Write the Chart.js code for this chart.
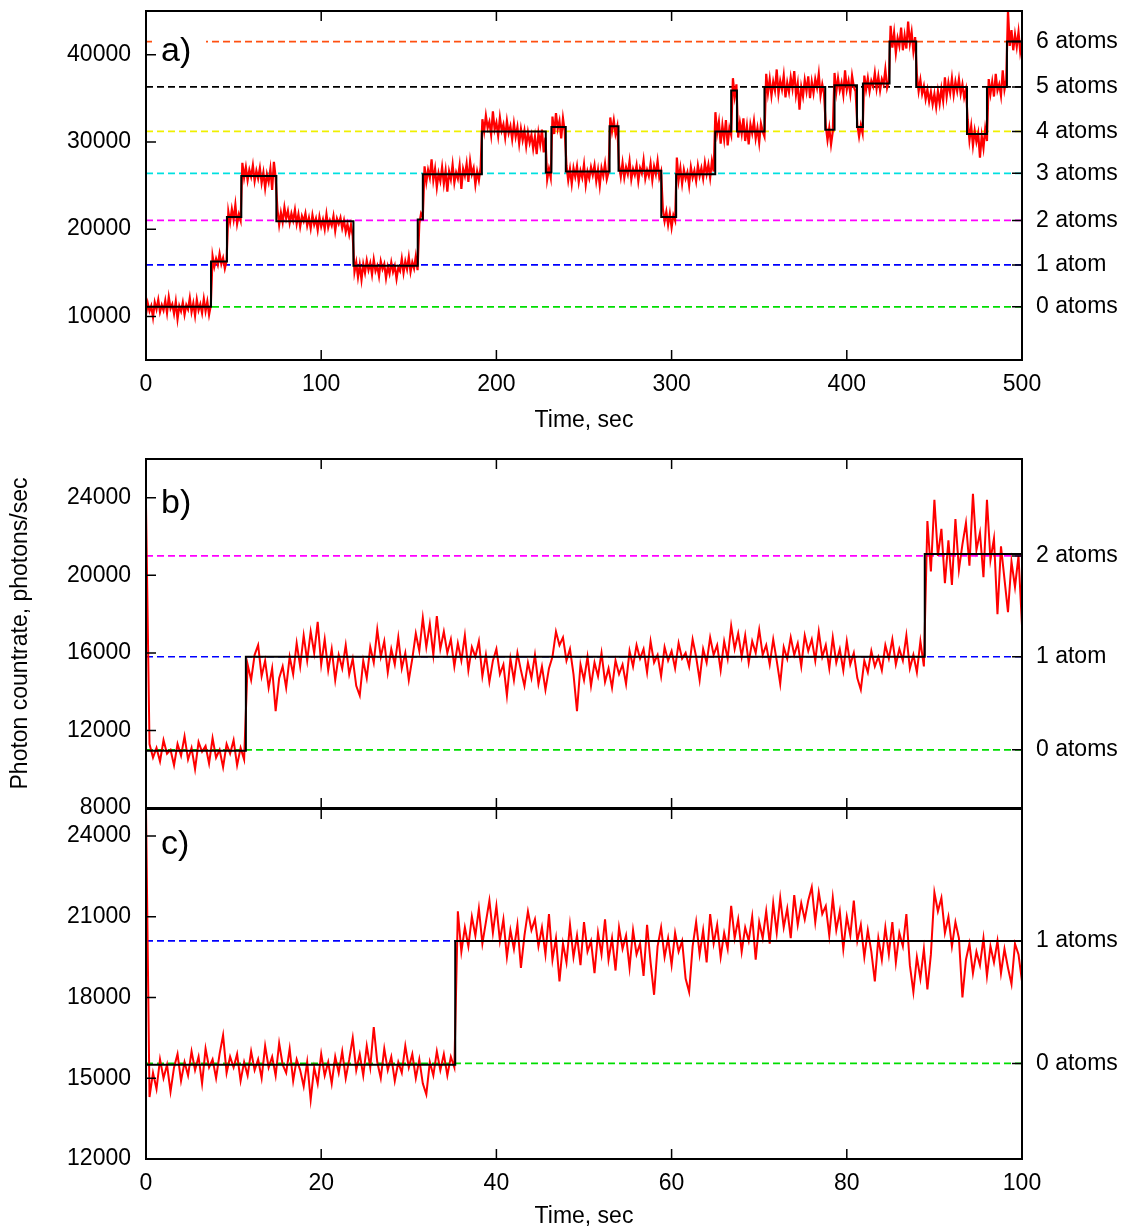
<!DOCTYPE html>
<html>
<head>
<meta charset="utf-8">
<title>Photon countrate traces</title>
<script src="https://cdn.jsdelivr.net/npm/chart.js@4.4.1/dist/chart.umd.min.js"></script>
<style>
  html, body { margin: 0; padding: 0; background: #fff; }
  #wrap { position: relative; width: 1125px; height: 1230px; overflow: hidden; background: #fff; }
  canvas { position: absolute; left: 0; }
</style>
</head>
<body>
<div id="wrap">
  <canvas id="chartA" width="1125" height="440" style="top:0px"></canvas>
  <canvas id="chartB" width="1125" height="380" style="top:440px"></canvas>
  <canvas id="chartC" width="1125" height="430" style="top:800px"></canvas>
</div>
<script>
const FONT = '"Liberation Sans", Arial, Helvetica, sans-serif';

// ---- panel a) : one reading per second, 0..500 s
const aDt = 1;
const aRate = [
  10200, 11500, 10600, 11200, 9900, 11600, 10800, 11900, 10500, 11300, 10700, 11800, 10400, 12200, 10900, 11400, 10300, 11700, 9700, 11200,
  10600, 11600, 10200, 11300, 10800, 12100, 10500, 11500, 10100, 11900, 10700, 11400, 10400, 12000, 10600, 11700, 10200, 11300,   // 0-37
  16900, 15700, 16600, 15900, 17200, 16000, 16700, 15500, 16400,                                                                  // 38-46
  22000, 20800, 22300, 21100, 22800, 20600, 21700, 21000,                                                                         // 47-54
  27600, 25900, 27100, 25600, 26800, 26000, 27300, 25500, 26700, 25800, 27000, 25300, 26500, 24700, 26300, 25400, 26900, 24500, 27700, 25900, // 55-74
  22300, 20500, 21900, 20800, 22500, 21200, 22100, 20700, 21800, 21000, 22200, 20600, 21700, 20300, 21500, 20900, 21800, 20400, 21300, 20100,
  21600, 20500, 21200, 19900, 21400, 20300, 21100, 20000, 21700, 20200, 21000, 20400, 21500, 19800, 21200, 20600, 21300, 20100, 21000, 19700,
  20600, 19400, 20500, 19200,                                                                                                     // 75-118
  15100, 16200, 14500, 15900, 14200, 16000, 15000, 16400, 15300, 16100, 14800, 16500, 15200, 15800, 14600, 16300, 15400, 16000, 14400, 15700,
  14900, 16200, 15100, 15800, 14300, 15600, 15200, 16600, 15000, 16300, 15400, 16800, 15100, 16200, 15500, 16900, 15300,         // 119-155
  20600, 21800, 21400,                                                                                                            // 156-158
  27200, 25400, 26800, 25900, 28000, 25600, 26900, 24800, 26400, 25500, 27100, 25200, 26700, 24300, 26600, 25700, 27400, 25300, 26500, 25800,
  27300, 24600, 26900, 26100, 27500, 25400, 27800, 26300, 27000, 25100, 26600, 25600, 27100,                                      // 159-191
  32600, 31200, 33000, 31600, 32300, 30800, 33500, 31400, 32200, 30700, 32800, 31300, 32000, 30500, 32400, 31000, 31800, 30300, 32100, 30600,
  31700, 29800, 31500, 30200, 31300, 29500, 31100, 29900, 30800, 29200, 30600, 28600, 31000, 29700, 31400, 28800, 30500,         // 192-228
  25700, 26900, 25900,                                                                                                            // 229-231
  32900, 30900, 33300, 31500, 32400, 30400, 32700, 31200,                                                                         // 232-239
  27300, 25600, 26900, 25200, 27000, 26000, 27200, 25400, 26700, 25900, 27400, 25100, 26600, 25800, 27100, 26200, 27300, 25500, 26800, 25000,
  27000, 26100, 27500, 25700, 26500,                                                                                              // 240-264
  32800, 31200, 32500, 30900, 31800,                                                                                              // 265-269
  27400, 26000, 27600, 25900, 27100, 26300, 27800, 25700, 26900, 26200, 27300, 25500, 27000, 26400, 27900, 25800, 26800, 26100, 27500, 25600,
  27200, 26300, 27800, 25900, 26600,                                                                                              // 270-294
  22300, 20900, 22000, 20500, 21800, 20200, 21600, 21000,                                                                         // 295-302
  28200, 25600, 27000, 25200, 26800, 25800, 26500, 25000, 27100, 25900, 26700, 25500, 27300, 26100, 27000, 25800, 27600, 26300, 27400, 25900,
  27800, 26600,                                                                                                                   // 303-324
  33400, 31000, 32300, 29800, 31900, 30300, 32500, 29600, 31600, 30800,                                                           // 325-334
  37300, 35200, 36600,                                                                                                            // 335-337
  30500, 32200, 30900, 32700, 30100, 31800, 29700, 32000, 31000, 32400, 30400, 31600, 29900, 32100, 31200, 30600,                 // 338-353
  37800, 35600, 37200, 35300, 36900, 35900, 38300, 35500, 37000, 36000, 37600, 35100, 36800, 35700, 37400, 36100, 38100, 35400, 36700, 33700,
  36300, 35200, 37100, 35800, 37500, 35000, 36900, 35600, 37200, 36200, 37800, 35300, 36600, 35500,                               // 354-387
  31900, 30200, 31600, 29700, 31200,                                                                                              // 388-392
  37900, 35700, 37300, 35900, 36800, 35400, 38200, 36000, 37000, 35500, 37600, 36300, 35800,                                      // 393-405
  32000, 30600, 31900, 31000,                                                                                                     // 406-409
  37600, 36000, 37300, 35800, 37000, 36400, 37900, 36100, 37500, 35900, 37200, 36600, 38300, 36200, 37000,                        // 410-424
  43300, 40800, 42500, 40200, 41900, 41000, 43100, 40500, 42200, 40700, 43800, 41300, 42600, 40400, 42000,                        // 425-439
  37700, 35800, 37100, 35500, 36400, 34900, 36000, 34600, 35700, 34300, 35500, 34000, 35800, 34400, 36100, 34700, 37400, 35200, 36800, 35600,
  37300, 35400, 36900, 35800, 37200, 35500, 36600, 35100, 36000,                                                                  // 440-468
  32600, 30200, 31800, 29600, 31300, 30000, 31000, 28200, 30700, 29300, 31500, 30100,                                             // 469-480
  37200, 35500, 36900, 35200, 37800, 35900, 36600, 35300, 38200, 36000, 37100,                                                    // 481-491
  45000, 41000, 42800, 40500, 42300, 40900, 42600, 40300, 41500                                                                   // 492-500
];
const aStepTimes  = [0, 37.1, 46.2, 54.4, 74.4, 118.4, 155.1, 158.0, 191.7, 228.2, 231.4, 239.6, 264.6, 269.7, 294.1, 302.6, 324.9, 334.0, 337.3, 353.0, 387.7, 393.0, 405.8, 409.2, 424.4, 439.6, 468.6, 480.0, 491.4, 500];
const aStepLevels = [11100, 16300, 21400, 26100, 20900, 15800, 21100, 26300, 31200, 26500, 31700, 26600, 31800, 26700, 21400, 26300, 31200, 35900, 31200, 36300, 31400, 36500, 31700, 36700, 41500, 36300, 30900, 36300, 41500, 41500];
const aLevels      = [11100, 15900, 21000, 26400, 31200, 36300, 41500];
const aLevelNames  = ['0 atoms', '1 atom', '2 atoms', '3 atoms', '4 atoms', '5 atoms', '6 atoms'];
const aLevelColors = ['#00dd00', '#0000ff', '#ff00ff', '#00e0e0', '#f0f000', '#000000', '#ff5010'];
const aXTicks = [0, 100, 200, 300, 400, 500];
const aYTicks = [10000, 20000, 30000, 40000];

// ---- panel b) : one reading per 0.4 s, 0..100 s
const bDt = 0.4;
const bRate = [
  23600,
  11300, 10600, 11100, 10400, 11500, 10800, 11000, 10200, 11300, 10700, 11700, 10500, 11100, 10000, 11400, 10900, 11200, 10300, 11600, 10600,
  11000, 10100, 11300, 10800, 11500, 10200, 11100, 10500,
  15400, 14600, 15900, 16400, 14800, 15600, 14200, 15200, 13000, 14700, 15300, 14200, 15800, 14900, 16500, 15300, 16900, 15600, 17100, 16000,
  17600, 15400, 16700, 15100, 16200, 14600, 15900, 15200, 16400, 14900, 15700, 14300, 13800, 15600, 14700, 16300, 15500, 17200, 15800, 16600,
  15000, 16200, 15400, 16800, 15200, 16000, 14600, 15700, 17000, 16100, 17800, 16300, 17500, 15900, 17900, 16200, 17100, 16000, 16700, 15300,
  16500, 15600, 16900, 15100, 16300, 15800, 16600, 14800, 15900, 14500, 15600, 16200, 14900, 15400, 13800, 15700, 14600, 16000, 15100, 14300,
  15500, 14700, 15900, 14400, 15300, 14100, 15200, 15800, 17100, 16400, 16800, 15600, 16200, 14900, 13000, 15400, 14600, 15800, 14300, 15500,
  14800, 16000, 14500, 15200, 14200, 15600, 14900, 15400, 14400, 16100, 15300, 16400, 15700, 16200, 15000, 16600, 15500, 15900, 14800, 16300,
  15600, 16100, 15200, 16500, 15700, 16000, 15300, 16700, 15800, 14600, 16200, 15500, 16800, 15900, 16400, 15100, 16600, 15700, 17400, 16200,
  17000, 15800, 16900, 15500, 16600, 16000, 17200, 15900, 16400, 15400, 16700, 15600, 14400, 16300, 15700, 16800, 15900, 16500, 15300, 16900,
  16100, 16700, 15600, 17100, 15800, 16400, 15200, 16800, 15500, 16200, 15100, 16600, 15400, 16000, 14700, 14100, 15600, 15000, 16100, 15300,
  15800, 15100, 16400, 15700, 16700, 15400, 16200, 15600, 16900, 15200, 15900, 15000, 16600, 15300,
  22800, 20200, 23900, 21000, 22400, 19600, 21800, 19500, 22900, 20300, 21600, 22700, 20500, 24200, 21300, 22200, 19900, 23900, 20800, 21900,
  18000, 21500, 19800, 18100, 20700, 19400, 21000, 17400
];
const bStepTimes  = [0, 11.4, 88.9, 100];
const bStepLevels = [10950, 15800, 21100, 21100];
const bLevels      = [11000, 15800, 21000];
const bLevelNames  = ['0 atoms', '1 atom', '2 atoms'];
const bLevelColors = ['#00dd00', '#0000ff', '#ff00ff'];
const bXTicks = [0, 20, 40, 60, 80, 100];
const bYTicks = [8000, 12000, 16000, 20000, 24000];

// ---- panel c) : one reading per 0.4 s, 0..100 s
const cDt = 0.4;
const cRate = [
  25000,
  14300, 15200, 14600, 15700, 15000, 15500, 14500, 15400, 15900, 14900, 15600, 15100, 16000, 15300, 15800, 14800, 16100, 15400, 15700, 15000,
  15900, 16600, 15200, 15800, 15400, 15900, 14900, 15600, 15100, 16000, 15300, 15700, 15000, 16200, 15400, 15800, 15100, 16300, 15500, 15200,
  16100, 14900, 15700, 15300, 14700, 15600, 14200, 15400, 14800, 15900, 15100, 15600, 14800, 15800, 15200, 16000, 15000, 15700, 16500, 15300,
  15900, 15100, 16200, 15400, 16900, 15600, 15000, 16100, 15300, 15800, 14900, 15600, 15200, 16200, 15400, 15900, 15000, 15700, 14800, 14400,
  15600, 15100, 16000, 15300, 15900, 15100, 15800, 15400,
  21200, 19700, 20600, 19900, 21000, 20300, 21300, 20000, 20800, 21600, 20400, 21400, 20100, 20900, 19500, 20500, 19800, 20700, 19100, 20300,
  21200, 20500, 20900, 19900, 20600, 19600, 21100, 19400, 20200, 18600, 20000, 19300, 20700, 19500, 20300, 19200, 20800, 19700, 20100, 18900,
  20400, 19600, 20900, 19400, 20200, 19000, 20600, 19800, 20300, 19100, 20500, 19600, 20000, 18800, 20700, 19300, 18100, 19900, 20600, 19500,
  20200, 19200, 20400, 19700, 20100, 18700, 18200, 19900, 20800, 19600, 20500, 19300, 21100, 20000, 20700, 19500, 20400, 19800, 21400, 20200,
  20900, 19700, 20600, 20100, 21000, 19400, 20800, 20200, 21200, 20000, 21500, 20400, 21700, 20600, 21300, 20200, 21800, 20700, 21500, 20900,
  21600, 22100, 20800, 21900, 21100, 21400, 20300, 21700, 20500, 21200, 19800, 21000, 20300, 21600, 20100, 20700, 19500, 20500, 19700, 18600,
  20200, 19400, 20600, 19600, 20800, 19300, 20400, 19900, 21100, 19200, 18200, 19500, 18700, 19800, 18300, 19600, 21900, 21200, 21700, 20400,
  21000, 19900, 20800, 20200, 18000, 19400, 20000, 18900, 19700, 19200, 20200, 18800, 19900, 19300, 20100, 18900, 19800, 19100, 18500, 20000,
  19600, 18600
];
const cStepTimes  = [0, 35.3, 100];
const cStepLevels = [15500, 20100, 20100];
const cLevels      = [15550, 20100];
const cLevelNames  = ['0 atoms', '1 atoms'];
const cLevelColors = ['#00dd00', '#0000ff'];
const cXTicks = [0, 20, 40, 60, 80, 100];
const cYTicks = [12000, 15000, 18000, 21000, 24000];

Chart.defaults.font.family = FONT;
Chart.defaults.font.size = 23;
Chart.defaults.color = '#000';

// gnuplot-like frame, inward ticks and the panel letter
const framePlugin = {
  id: 'frame',
  afterDatasetsDraw(chart, args, opts) {
    const { ctx, chartArea: a } = chart;
    const sx = chart.scales.x, sy = chart.scales.y, sy2 = chart.scales.y2;
    ctx.save();
    ctx.font = '34px ' + FONT;
    if (opts.box) {
      ctx.fillStyle = '#fff';
      ctx.fillRect(a.left + 6, a.top + 16, 54, 40);
    }
    ctx.fillStyle = '#000';
    ctx.textBaseline = 'alphabetic';
    ctx.fillText(opts.label, a.left + 15, opts.labelY);

    ctx.strokeStyle = '#000';
    ctx.lineWidth = 1.5;
    ctx.beginPath();
    sx.ticks.forEach(t => {
      const p = sx.getPixelForValue(t.value);
      ctx.moveTo(p, a.bottom); ctx.lineTo(p, a.bottom - 10);
      ctx.moveTo(p, a.top); ctx.lineTo(p, a.top + 10);
    });
    sy.ticks.forEach(t => {
      const p = sy.getPixelForValue(t.value);
      ctx.moveTo(a.left, p); ctx.lineTo(a.left + 10, p);
    });
    sy2.ticks.forEach(t => {
      const p = sy2.getPixelForValue(t.value);
      ctx.moveTo(a.right, p); ctx.lineTo(a.right - 10, p);
    });
    ctx.stroke();
    ctx.lineWidth = 2;
    ctx.strokeRect(a.left, a.top, a.right - a.left, a.bottom - a.top);
    ctx.restore();
  }
};

function makePanel(id, o) {
  const datasets = [];
  datasets.push({
    data: o.stepTimes.map((t, i) => ({ x: t, y: o.stepLevels[i] })),
    borderColor: '#000', borderWidth: 2, stepped: true, pointRadius: 0
  });
  datasets.push({
    data: o.rate.map((v, i) => ({ x: i * o.dt, y: v })),
    borderColor: '#ff0000', borderWidth: o.rateWidth, pointRadius: 0
  });
  o.levels.forEach((lv, k) => {
    datasets.push({
      data: [{ x: o.xMin, y: lv }, { x: o.xMax, y: lv }],
      borderColor: o.levelColors[k], borderWidth: 1.7, borderDash: [7, 4], pointRadius: 0
    });
  });

  return new Chart(document.getElementById(id), {
    type: 'line',
    data: { datasets },
    plugins: [framePlugin],
    options: {
      responsive: false,
      animation: false,
      devicePixelRatio: 1,
      events: [],
      layout: { padding: { top: o.padTop, left: 0, right: 0, bottom: 0 } },
      plugins: {
        legend: { display: false },
        tooltip: { enabled: false },
        frame: { label: o.label, labelY: o.labelY, box: o.box }
      },
      scales: {
        x: {
          type: 'linear', position: 'bottom', min: o.xMin, max: o.xMax,
          afterBuildTicks: s => { s.ticks = o.xTicks.map(v => ({ value: v })); },
          afterFit: s => { s.height = o.xHeight; s.paddingLeft = 0; s.paddingRight = 0; },
          grid: { display: false, drawTicks: false }, border: { display: false },
          ticks: { display: o.xLabels, padding: 11, maxRotation: 0, autoSkip: false, callback: v => String(v) },
          title: { display: o.xLabels, text: 'Time, sec', padding: { top: 0, bottom: o.xTitlePad } }
        },
        y: {
          type: 'linear', position: 'left', min: o.yMin, max: o.yMax,
          afterBuildTicks: s => { s.ticks = o.yTicks.map(v => ({ value: v })); },
          afterFit: s => { s.width = 146; s.paddingTop = 0; s.paddingBottom = 0; },
          grid: { display: false, drawTicks: false }, border: { display: false },
          ticks: { padding: 15, autoSkip: false, callback: v => String(v) },
          title: { display: !!o.yTitle, text: o.yTitle || '', padding: { top: 7, bottom: 0 } }
        },
        y2: {
          type: 'linear', position: 'right', min: o.yMin, max: o.yMax,
          afterBuildTicks: s => { s.ticks = o.levels.map(v => ({ value: v })); },
          afterFit: s => { s.width = 103; s.paddingTop = 0; s.paddingBottom = 0; },
          grid: { display: false, drawTicks: false }, border: { display: false },
          ticks: { padding: 14, autoSkip: false, callback: v => o.levelNames[o.levels.indexOf(v)] }
        }
      }
    }
  });
}

makePanel('chartA', {
  rate: aRate, dt: aDt, rateWidth: 2.2,
  stepTimes: aStepTimes, stepLevels: aStepLevels,
  levels: aLevels, levelNames: aLevelNames, levelColors: aLevelColors,
  xMin: 0, xMax: 500, xTicks: aXTicks, yMin: 5000, yMax: 45000, yTicks: aYTicks,
  padTop: 11, xHeight: 80, xLabels: true, xTitlePad: 6,
  label: 'a)', labelY: 61, box: true
});
makePanel('chartB', {
  rate: bRate, dt: bDt, rateWidth: 2,
  stepTimes: bStepTimes, stepLevels: bStepLevels,
  levels: bLevels, levelNames: bLevelNames, levelColors: bLevelColors,
  xMin: 0, xMax: 100, xTicks: bXTicks, yMin: 8000, yMax: 26000, yTicks: bYTicks,
  padTop: 19, xHeight: 12, xLabels: false, xTitlePad: 0,
  yTitle: 'Photon countrate, photons/sec',
  label: 'b)', labelY: 73, box: false
});
makePanel('chartC', {
  rate: cRate, dt: cDt, rateWidth: 2,
  stepTimes: cStepTimes, stepLevels: cStepLevels,
  levels: cLevels, levelNames: cLevelNames, levelColors: cLevelColors,
  xMin: 0, xMax: 100, xTicks: cXTicks, yMin: 12000, yMax: 25000, yTicks: cYTicks,
  padTop: 9, xHeight: 71, xLabels: true, xTitlePad: 0,
  label: 'c)', labelY: 54, box: false
});
</script>
</body>
</html>
